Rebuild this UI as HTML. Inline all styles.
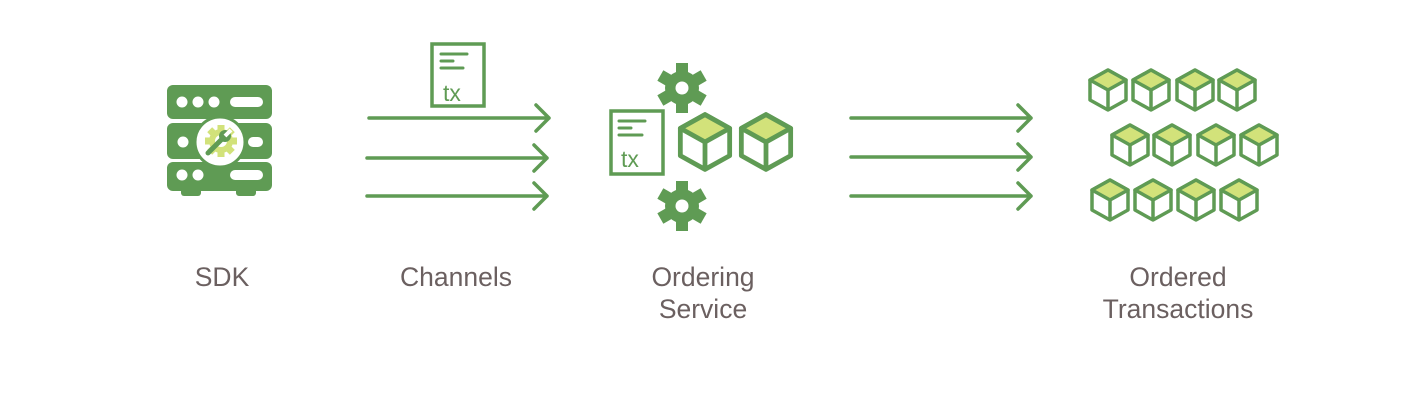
<!DOCTYPE html>
<html><head><meta charset="utf-8"><style>
html,body{margin:0;padding:0;background:#fff;}
svg{display:block}
text{font-family:"Liberation Sans",Arial,sans-serif;fill:#6b6060;font-size:26.5px;text-anchor:middle}
</style></head><body>
<svg width="1420" height="400" viewBox="0 0 1420 400" xmlns="http://www.w3.org/2000/svg">
<defs>
<g id="cube">
<path d="M0,-20 L18,-10 L18,10 L0,20 L-18,10 L-18,-10 Z" fill="#fff" stroke="#5f9b54" stroke-width="3.5" stroke-linejoin="round"/>
<path d="M0,-20 L18,-10 L0,0 L-18,-10 Z" fill="#d2e27a" stroke="#5f9b54" stroke-width="3.5" stroke-linejoin="round"/>
<path d="M0,0 L0,20" stroke="#5f9b54" stroke-width="3.5"/>
</g>
<g id="gear">
<circle r="17" fill="#5f9b54"/>
<g fill="#5f9b54">
<rect x="-6" y="-25" width="12" height="12"/>
<rect x="-6" y="-25" width="12" height="12" transform="rotate(60)"/>
<rect x="-6" y="-25" width="12" height="12" transform="rotate(120)"/>
<rect x="-6" y="-25" width="12" height="12" transform="rotate(180)"/>
<rect x="-6" y="-25" width="12" height="12" transform="rotate(240)"/>
<rect x="-6" y="-25" width="12" height="12" transform="rotate(300)"/>
</g>
<circle r="6.5" fill="#fff"/>
</g>
<g id="arrow" fill="none" stroke="#5f9b54" stroke-width="3.5" stroke-linecap="round" stroke-linejoin="round">
<path d="M0,0 L180,0 M167,-13 L180,0 L167,13"/>
</g>
</defs>

<g fill="#5f9b54">
<rect x="167" y="85" width="105" height="34" rx="6"/>
<rect x="167" y="123" width="105" height="36" rx="6"/>
<rect x="167" y="162" width="105" height="29" rx="6"/>
<rect x="181" y="186" width="20" height="10" rx="3"/>
<rect x="236" y="186" width="20" height="10" rx="3"/>
</g>
<g fill="#fff">
<circle cx="182" cy="102" r="5.5"/><circle cx="198" cy="102" r="5.5"/><circle cx="214" cy="102" r="5.5"/>
<rect x="230" y="97" width="33" height="10" rx="5"/>
<circle cx="183" cy="142" r="5.5"/>
<rect x="248" y="137" width="15" height="10" rx="5"/>
<circle cx="182" cy="175" r="5.5"/><circle cx="198" cy="175" r="5.5"/>
<rect x="230" y="170" width="33" height="10" rx="5"/>
</g>
<circle cx="220" cy="142" r="25" fill="#fff" stroke="#5f9b54" stroke-width="3"/>
<g transform="translate(221,141)">
<circle r="12" fill="#d2e27a"/>
<g fill="#d2e27a">
<rect x="-3.5" y="-16" width="7" height="7"/>
<rect x="-3.5" y="-16" width="7" height="7" transform="rotate(45)"/>
<rect x="-3.5" y="-16" width="7" height="7" transform="rotate(90)"/>
<rect x="-3.5" y="-16" width="7" height="7" transform="rotate(135)"/>
<rect x="-3.5" y="-16" width="7" height="7" transform="rotate(180)"/>
<rect x="-3.5" y="-16" width="7" height="7" transform="rotate(225)"/>
<rect x="-3.5" y="-16" width="7" height="7" transform="rotate(270)"/>
<rect x="-3.5" y="-16" width="7" height="7" transform="rotate(315)"/>
</g>
<circle r="6" fill="#fff"/>
<path d="M-13,12 L1,-2" stroke="#5f9b54" stroke-width="5" stroke-linecap="round"/>
<circle cx="4" cy="-5" r="6" fill="#5f9b54"/>
<path d="M4,-5 L10,-11" stroke="#fff" stroke-width="4"/>
</g>

<rect x="432" y="44" width="52" height="62" fill="#fff" stroke="#5f9b54" stroke-width="3.5"/>
<g stroke="#5f9b54" stroke-width="3" stroke-linecap="round">
<line x1="441" y1="54" x2="467" y2="54"/>
<line x1="441" y1="61" x2="453" y2="61"/>
<line x1="441" y1="68" x2="463" y2="68"/>
</g>
<text x="452" y="101" style="fill:#5f9b54;font-size:23px">tx</text>

<use href="#arrow" x="369" y="118"/>
<use href="#arrow" x="367" y="158"/>
<use href="#arrow" x="367" y="196"/>

<use href="#gear" x="682" y="88"/>
<use href="#gear" x="682" y="206"/>
<rect x="611" y="111" width="52" height="63" fill="#fff" stroke="#5f9b54" stroke-width="3.5"/>
<g stroke="#5f9b54" stroke-width="3" stroke-linecap="round">
<line x1="619" y1="121" x2="645" y2="121"/>
<line x1="619" y1="128" x2="631" y2="128"/>
<line x1="619" y1="135" x2="642" y2="135"/>
</g>
<text x="630" y="167" style="fill:#5f9b54;font-size:23px">tx</text>
<g transform="translate(705,142) scale(1.37)"><use href="#cube"/></g>
<g transform="translate(766,142) scale(1.37)"><use href="#cube"/></g>

<use href="#arrow" x="851" y="118"/>
<use href="#arrow" x="851" y="157"/>
<use href="#arrow" x="851" y="196"/>

<use href="#cube" x="1108" y="90"/><use href="#cube" x="1151" y="90"/><use href="#cube" x="1195" y="90"/><use href="#cube" x="1237" y="90"/>
<use href="#cube" x="1130" y="145"/><use href="#cube" x="1172" y="145"/><use href="#cube" x="1216" y="145"/><use href="#cube" x="1259" y="145"/>
<use href="#cube" x="1110" y="200"/><use href="#cube" x="1153" y="200"/><use href="#cube" x="1196" y="200"/><use href="#cube" x="1239" y="200"/>

<text x="222" y="286">SDK</text>
<text x="456" y="286">Channels</text>
<text x="703" y="286">Ordering</text>
<text x="703" y="318">Service</text>
<text x="1178" y="286">Ordered</text>
<text x="1178" y="318">Transactions</text>
</svg>
</body></html>
